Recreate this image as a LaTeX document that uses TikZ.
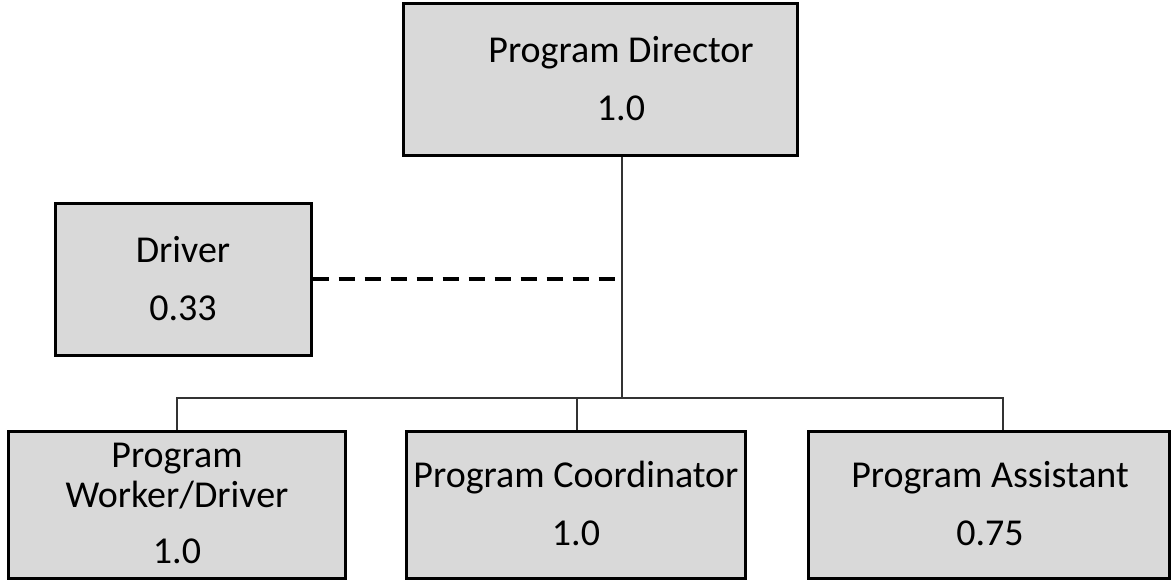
\documentclass[tikz,border=0pt]{standalone}
\usepackage{fontspec}
\setmainfont{Carlito}
\begin{document}
\begin{tikzpicture}[x=1pt,y=-1pt,
  box/.style={draw=black, line width=3pt, fill=black!15, inner sep=0pt},
  lbl/.style={inner sep=0pt, anchor=base, font=\fontsize{38}{46}\selectfont},
  conn/.style={draw=black!80, line width=2pt},
  dashconn/.style={draw=black, line width=3.5pt, dash pattern=on 16pt off 10pt}]
\useasboundingbox (0,0) rectangle (1171,581);
% boxes
\node[box, minimum width=394pt, minimum height=152pt] (dir) at (600,79) {};
\node[box, minimum width=256pt, minimum height=152pt] (drv) at (183,279) {};
\node[box, minimum width=337pt, minimum height=147pt] (pw) at (176.5,504.5) {};
\node[box, minimum width=339pt, minimum height=147pt] (pc) at (575.5,504.5) {};
\node[box, minimum width=361pt, minimum height=147pt] (pa) at (988.5,504.5) {};
% texts
\node[lbl] (dirA) at (621,62) {Program Director};
\node[lbl] (dirB) at (621,120) {1.0};
\node[lbl] (drvA) at (183,262) {Driver};
\node[lbl] (drvB) at (183,320) {0.33};
\node[lbl] (pwA) at (177,467) {Program};
\node[lbl] (pwB) at (177,507) {Worker/Driver};
\node[lbl] (pwC) at (177,563) {1.0};
\node[lbl] (pcA) at (576,487) {Program Coordinator};
\node[lbl] (pcB) at (576,545) {1.0};
\node[lbl] (paA) at (990,487) {Program Assistant};
\node[lbl] (paB) at (990,545) {0.75};
% connectors
\coordinate (j) at (622,279);
\coordinate (bus) at (622,398);
\coordinate (bl) at (177,398);
\coordinate (bm) at (577,398);
\coordinate (br) at (1003,398);
\draw[conn] (dir.south -| j) -- (bus);
\draw[conn] (pw.north -| bl) -- (bl) -- (br) -- (pa.north -| br);
\draw[conn] (bm) -- (pc.north -| bm);
\draw[dashconn] (drv.east |- j) -- (j);
\end{tikzpicture}
\end{document}
